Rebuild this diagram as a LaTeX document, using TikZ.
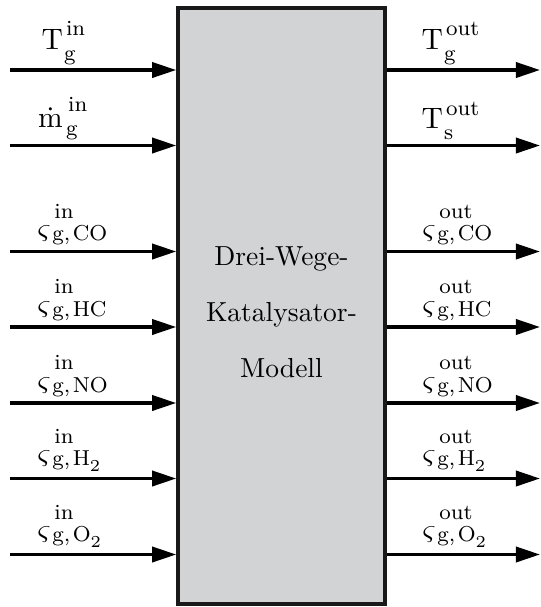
\documentclass[tikz,border=0pt]{standalone}
\usetikzlibrary{arrows.meta}
\definecolor{boxgray}{RGB}{210,211,213}
\newcommand\scfont{\fontsize{8}{9}\selectfont}
\newcommand\lowtwo{\raisebox{-0.28em}{\fontsize{6.2}{7}\selectfont 2}}
% label: base, sup, sub, sup raise, sub lower, gap
\newcommand\mylbl[6]{\mbox{$#1$}\kern#6\relax
  \setbox0\hbox{\kern0.07em\raisebox{#4}{\scfont #2}}%
  \setbox2\hbox{\raisebox{-#5}{\scfont #3}}%
  \dimen0=\wd0 \ifdim\wd2>\dimen0 \dimen0=\wd2 \fi
  \hbox to\dimen0{\rlap{\box0}\box2\hss}}
\newcommand\TT[2]{\mylbl{\mathrm{T}}{#1}{#2}{0.47em}{0.38em}{0.04em}}
\newcommand\SG[2]{\mylbl{\varsigma}{#1}{#2}{0.70em}{0.07em}{0.06em}}
\begin{document}
\begin{tikzpicture}[x=0.3704pt,y=-0.3704pt,
  flow/.style={line width=1.19pt,-{Triangle[length=8.9pt,width=5.6pt]}},
  lbl/.style={inner sep=0pt,anchor=south west,font=\fontsize{10.7}{12}\selectfont},
  blockbox/.style={draw=black!90,line width=1.33pt,fill=boxgray}]
\useasboundingbox (0,0) rectangle (541,607);
\node[blockbox,minimum width=76.67pt,minimum height=220.76pt,inner sep=0pt] (kat) at (281.5,306) {};
\node[align=center,inner sep=0pt,font=\fontsize{10.2}{20.74}\selectfont] (txt) at (281.5,312.6) {Drei-Wege-\\Katalysator-\\Modell};
% left inputs
\foreach \n/\y/\x/\d/\t in {
  a/70/41/5/{\TT{in}{g}},
  b/145.5/37.5/5/{\mylbl{\dot{\mathrm{m}}}{in}{g}{0.55em}{0.28em}{0.12em}},
  c/251.5/37/6/{\SG{in}{g,\kern0.12em CO}},
  d/327/37/6/{\SG{in}{g,\kern0.12em HC}},
  e/403/37/6/{\SG{in}{g,\kern0.12em NO}},
  f/478.5/37/6/{\SG{in}{g,\kern0.12em H\lowtwo}},
  g/554.5/37/6/{\SG{in}{g,\kern0.12em O\lowtwo}}}{
  \coordinate (in\n) at (10,\y);
  \coordinate (ie\n) at (kat.west |- in\n);
  \draw[flow] (in\n) -- (ie\n);
  \node[lbl] (il\n) at (\x,\y-\d) {\t};
}
% right outputs
\foreach \n/\y/\x/\d/\t in {
  a/70/421/5/{\TT{out}{g}},
  b/145.5/421/5/{\TT{out}{s}},
  c/251.5/422/6/{\SG{out}{g,\kern0.12em CO}},
  d/327/422/6/{\SG{out}{g,\kern0.12em HC}},
  e/403/422/6/{\SG{out}{g,\kern0.12em NO}},
  f/478.5/422/6/{\SG{out}{g,\kern0.12em H\lowtwo}},
  g/554.5/422/6/{\SG{out}{g,\kern0.12em O\lowtwo}}}{
  \coordinate (os\n) at (kat.east |- 0,\y);
  \coordinate (oe\n) at (540,\y);
  \draw[flow] (os\n) -- (oe\n);
  \node[lbl] (ol\n) at (\x,\y-\d) {\t};
}
\end{tikzpicture}
\end{document}
